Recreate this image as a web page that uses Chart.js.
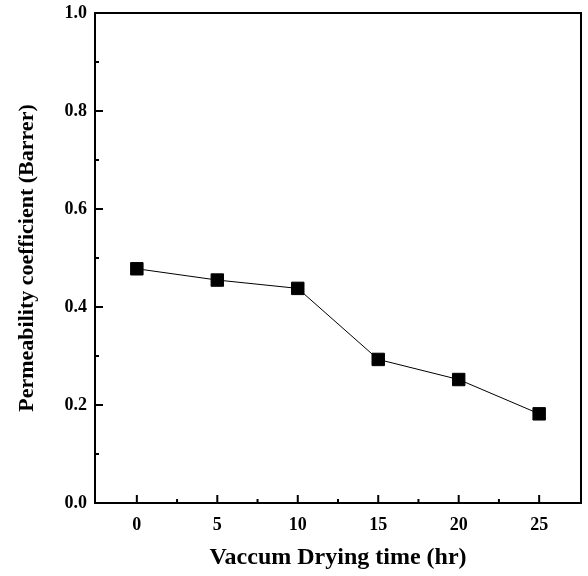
<!DOCTYPE html>
<html>
<head>
<meta charset="utf-8">
<script src="https://cdn.jsdelivr.net/npm/chart.js@4/dist/chart.umd.min.js"></script>
<style>
  html, body { margin: 0; padding: 0; background: #fff; }
  #wrap { width: 588px; height: 576px; }
</style>
</head>
<body>
<div id="wrap"><canvas id="chart"></canvas></div>
<script>
const dryingHours  = [0, 5, 10, 15, 20, 25];
const permeability = [0.478, 0.455, 0.438, 0.293, 0.252, 0.182];
const xTicks       = [0, 5, 10, 15, 20, 25];
const xMinorTicks  = [2.5, 7.5, 12.5, 17.5, 22.5];
const yTicks       = [0, 0.2, 0.4, 0.6, 0.8, 1.0];
const yMinorTicks  = [0.1, 0.3, 0.5, 0.7, 0.9];

const FONT = '"Liberation Serif", "Times New Roman", serif';

// frame + inward ticks, placed through the chart's own scales
const frameTicks = {
    id: 'frameTicks',
    afterDraw(c) {
        const { ctx, chartArea: a, scales: { x, y } } = c;
        ctx.save();
        ctx.strokeStyle = '#000';
        ctx.lineWidth = 2;
        ctx.strokeRect(a.left, a.top, a.right - a.left, a.bottom - a.top);
        ctx.beginPath();
        for (const v of xTicks) {
            const px = x.getPixelForValue(v);
            ctx.moveTo(px, a.bottom); ctx.lineTo(px, a.bottom - 8);
        }
        for (const v of xMinorTicks) {
            const px = x.getPixelForValue(v);
            ctx.moveTo(px, a.bottom); ctx.lineTo(px, a.bottom - 4);
        }
        for (const v of yTicks) {
            const py = y.getPixelForValue(v);
            ctx.moveTo(a.left, py); ctx.lineTo(a.left + 8, py);
        }
        for (const v of yMinorTicks) {
            const py = y.getPixelForValue(v);
            ctx.moveTo(a.left, py); ctx.lineTo(a.left + 4, py);
        }
        ctx.stroke();
        ctx.restore();
    }
};

new Chart(document.getElementById('chart'), {
    type: 'line',
    data: {
        datasets: [{
            data: dryingHours.map((h, i) => ({ x: h, y: permeability[i] })),
            borderColor: '#000',
            backgroundColor: '#000',
            borderWidth: 1,
            pointStyle: 'rect',
            pointRadius: 8.8,
            pointHoverRadius: 8.8,
            tension: 0,
        }]
    },
    options: {
        responsive: true,
        maintainAspectRatio: false,
        animation: false,
        layout: { autoPadding: false, padding: { top: 13, right: 7, left: 0, bottom: 0 } },
        plugins: { legend: { display: false }, tooltip: { enabled: false } },
        scales: {
            x: {
                type: 'linear',
                min: -2.6, max: 27.6,
                afterBuildTicks: s => { s.ticks = xTicks.map(v => ({ value: v })); },
                afterFit: s => { s.height = 73; s.paddingLeft = 0; s.paddingRight = 0; },
                grid: { display: false, drawTicks: false },
                border: { display: false },
                ticks: { color: '#000', padding: 12, font: { family: FONT, size: 18, weight: 'bold' } },
                title: {
                    display: true, text: 'Vaccum Drying time (hr)', color: '#000',
                    font: { family: FONT, size: 24, weight: 'bold' }, padding: { top: 10 }
                }
            },
            y: {
                min: 0, max: 1,
                afterBuildTicks: s => { s.ticks = yTicks.map(v => ({ value: v })); },
                afterFit: s => { s.width = 95; s.paddingTop = 0; s.paddingBottom = 0; },
                grid: { display: false, drawTicks: false },
                border: { display: false },
                ticks: {
                    color: '#000', padding: 8, font: { family: FONT, size: 18, weight: 'bold' },
                    callback: v => v.toFixed(1)
                },
                title: {
                    display: true, text: 'Permeability coefficient (Barrer)', color: '#000',
                    font: { family: FONT, size: 22, weight: 'bold' }, padding: { top: 14 }
                }
            }
        }
    },
    plugins: [frameTicks]
});
</script>
</body>
</html>
